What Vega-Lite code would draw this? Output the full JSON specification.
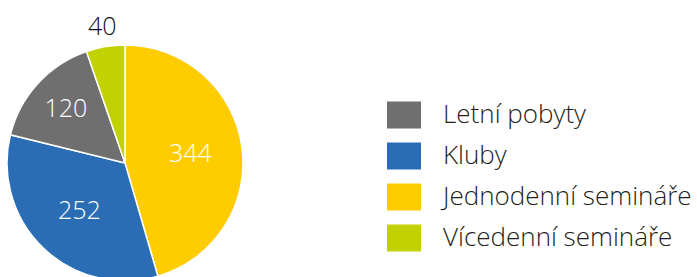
{
  "$schema": "https://vega.github.io/schema/vega-lite/v6.json",
  "width": 250,
  "height": 326,
  "padding": 0,
  "background": "#ffffff",
  "data": {
    "values": [
      {"kategorie": "Jednodenní semináře", "pocet": 344, "poradi": 1},
      {"kategorie": "Kluby", "pocet": 252, "poradi": 2},
      {"kategorie": "Letní pobyty", "pocet": 120, "poradi": 3},
      {"kategorie": "Vícedenní semináře", "pocet": 40, "poradi": 4}
    ]
  },
  "encoding": {
    "theta": {"field": "pocet", "type": "quantitative", "stack": true},
    "order": {"field": "poradi", "type": "quantitative"}
  },
  "layer": [
    {
      "mark": {"type": "arc", "outerRadius": 118, "stroke": "#ffffff", "strokeWidth": 1.5},
      "encoding": {
        "color": {
          "field": "kategorie",
          "type": "nominal",
          "scale": {
            "domain": ["Letní pobyty", "Kluby", "Jednodenní semináře", "Vícedenní semináře"],
            "range": ["#6f6f6f", "#2a6db4", "#ffcc00", "#c2d100"]
          },
          "legend": {
            "title": null,
            "orient": "none",
            "legendX": 387,
            "legendY": 98,
            "symbolType": "M-1,-0.794H1V0.794H-1Z",
            "symbolSize": 1156,
            "symbolStrokeWidth": 0,
            "symbolOpacity": 1,
            "rowPadding": 10,
            "labelOffset": 22,
            "labelFont": "Open Sans",
            "labelFontWeight": 300,
            "labelFontSize": 26,
            "labelColor": "#231f20",
            "labelLimit": 400
          }
        }
      }
    },
    {
      "mark": {"type": "text", "radius": 66, "font": "Open Sans", "fontWeight": 300, "fontSize": 25, "fill": "#ffffff"},
      "encoding": {
        "text": {"condition": {"test": "datum.poradi <= 2", "field": "pocet", "type": "quantitative"}, "value": ""}
      }
    },
    {
      "mark": {"type": "text", "radius": 80, "font": "Open Sans", "fontWeight": 300, "fontSize": 25, "fill": "#ffffff"},
      "encoding": {
        "text": {"condition": {"test": "datum.poradi == 3", "field": "pocet", "type": "quantitative"}, "value": ""}
      }
    },
    {
      "mark": {"type": "text", "radius": 138, "font": "Open Sans", "fontWeight": 300, "fontSize": 25, "fill": "#111111"},
      "encoding": {
        "text": {"condition": {"test": "datum.poradi == 4", "field": "pocet", "type": "quantitative"}, "value": ""}
      }
    }
  ]
}
